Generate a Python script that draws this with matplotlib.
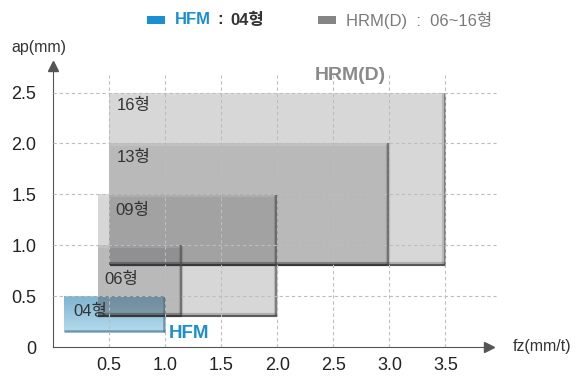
import matplotlib
matplotlib.use("Agg")
import matplotlib.pyplot as plt
import numpy as np
from matplotlib.patches import Rectangle
from matplotlib.colors import LinearSegmentedColormap

# Insert sizes (HRM(D) series) and their working ranges
hrm_names = ["16형", "13형", "09형", "06형"]
hrm_fz_min = [0.5, 0.5, 0.4, 0.4]
hrm_fz_max = [3.5, 3.0, 2.0, 1.15]
hrm_ap_min = [0.8, 0.8, 0.3, 0.3]
hrm_ap_max = [2.5, 2.0, 1.5, 1.0]

# HFM series
hfm_name = "04형"
hfm_fz = [0.1, 1.0]
hfm_ap = [0.15, 0.5]

x_ticks = [0.5, 1.0, 1.5, 2.0, 2.5, 3.0, 3.5]
x_tick_labels = ["0.5", "1.0", "1.5", "2.0", "2.5", "3.0", "3.5"]
y_ticks = [0, 0.5, 1.0, 1.5, 2.0, 2.5]
y_tick_labels = ["0", "0.5", "1.0", "1.5", "2.0", "2.5"]

FONT = ["Liberation Sans", "Noto Sans CJK KR"]
plt.rcParams["font.family"] = FONT

W, H = 586, 376
fig = plt.figure(figsize=(W / 100, H / 100), dpi=100)
ax = fig.add_axes([53 / W, 29 / H, 444 / W, 285 / H])
ax.set_xlim(0, 3.96)
ax.set_ylim(0, 2.8)

# Grid (drawn above the boxes)
grid_kw = dict(color="#bdbdbd", lw=0.8, linestyles=(0, (3, 2.5)), zorder=6)
ax.vlines(x_ticks, 0, 2.67, **grid_kw)
ax.hlines(y_ticks[1:], 0, 3.95, **grid_kw)

# HFM box with vertical gradient
blue_cmap = LinearSegmentedColormap.from_list("hfm", ["#b3dbee", "#7fb4d1"])
grad = np.linspace(0, 1, 64).reshape(-1, 1)
ax.imshow(grad, extent=(hfm_fz[0], hfm_fz[1], hfm_ap[0], hfm_ap[1]),
          origin="lower", cmap=blue_cmap, aspect="auto", zorder=1,
          interpolation="bilinear")
ax.plot([hfm_fz[0], hfm_fz[1]], [hfm_ap[0] + 0.008] * 2,
        color="#4a7d96", lw=1.8, alpha=0.7, zorder=1.5, solid_capstyle="butt")
ax.plot([hfm_fz[1] - 0.008] * 2, [hfm_ap[0], hfm_ap[1]],
        color="#4a7d96", lw=1.8, alpha=0.7, zorder=1.5, solid_capstyle="butt")

# HRM(D) boxes as translucent layers with shadowed bottom/right edges
for x0, x1, y0, y1 in zip(hrm_fz_min, hrm_fz_max, hrm_ap_min, hrm_ap_max):
    ax.add_patch(Rectangle((x0, y0), x1 - x0, y1 - y0, facecolor="#5a5a5c",
                           alpha=0.24, edgecolor="none", zorder=2))
    ax.add_patch(Rectangle((x0, y1 - 0.025), x1 - x0, 0.025, facecolor="white",
                           alpha=0.12, edgecolor="none", zorder=2.2))
    ax.plot([x0, x1], [y0 + 0.012, y0 + 0.012], color="#3a3a3a", lw=3.0,
            alpha=0.25, zorder=3, solid_capstyle="butt")
    ax.plot([x0, x1], [y0 + 0.008, y0 + 0.008], color="#333333", lw=1.5,
            alpha=0.7, zorder=3, solid_capstyle="butt")
    ax.plot([x1 - 0.012, x1 - 0.012], [y0, y1], color="#4a4a4a", lw=3.0,
            alpha=0.22, zorder=3, solid_capstyle="butt")
    ax.plot([x1 - 0.008, x1 - 0.008], [y0, y1], color="#4a4a4a", lw=1.4,
            alpha=0.55, zorder=3, solid_capstyle="butt")

# Size labels
label_xy = [(0.57, 2.37), (0.57, 1.86), (0.56, 1.34), (0.46, 0.66)]
for name, (lx, ly) in zip(hrm_names, label_xy):
    ax.text(lx, ly, name, fontsize=12, color="#333333", va="center",
            ha="left", zorder=8, family=FONT)
ax.text(0.18, 0.345, hfm_name, fontsize=12, color="#333333", va="center",
        ha="left", zorder=8, family=FONT)

# Series labels inside the plot
ax.text(2.65, 2.67, "HRM(D)", fontsize=14, fontweight="bold", color="#8a8a8a",
        ha="center", va="center", zorder=8)
ax.text(1.03, 0.135, "HFM", fontsize=13.5, fontweight="bold", color="#1a8fd2",
        ha="left", va="center", zorder=8)

# Axes with arrowheads
for s in ["top", "right"]:
    ax.spines[s].set_visible(False)
ax.spines["left"].set_color("#555555")
ax.spines["bottom"].set_color("#555555")
ax.spines["left"].set_bounds(0, 2.76)
ax.spines["bottom"].set_bounds(0, 3.86)
ax.plot(0, 2.76, marker="^", ms=7, color="#555555", clip_on=False, zorder=9)
ax.plot(3.89, 0, marker=">", ms=7, color="#555555", clip_on=False, zorder=9)

ax.set_xticks(x_ticks, x_tick_labels)
ax.set_yticks(y_ticks, y_tick_labels)
ax.tick_params(axis="both", length=0, labelsize=13, labelcolor="#222222")
ax.tick_params(axis="y", pad=12)
ax.tick_params(axis="x", pad=7)

ax.text(-0.37, 2.94, "ap(mm)", fontsize=11.5, color="#333333", ha="left",
        va="center", clip_on=False)
ax.text(4.1, 0.0, "fz(mm/t)", fontsize=11.5, color="#333333", ha="left",
        va="center", clip_on=False)

# Legend at the top
ly = 1 - 20 / H
fig.patches.append(Rectangle((147 / W, 1 - 24 / H), 18 / W, 8 / H,
                             transform=fig.transFigure, facecolor="#1a8fd2",
                             edgecolor="none"))
fig.text(175 / W, ly, "HFM", fontsize=12, fontweight="bold", color="#1a8fd2",
         ha="left", va="center")
fig.text(217 / W, ly, ":", fontsize=12, fontweight="bold", color="#333333",
         ha="left", va="center")
fig.text(230 / W, ly, "04형", fontsize=12, fontweight="bold", color="#333333",
         ha="left", va="center", family=FONT)
fig.patches.append(Rectangle((318 / W, 1 - 24 / H), 18 / W, 8 / H,
                             transform=fig.transFigure, facecolor="#858585",
                             edgecolor="none"))
fig.text(346 / W, ly, "HRM(D)  :  06~16형", fontsize=12, color="#7a7a7a",
         ha="left", va="center", family=FONT)

fig.savefig("out.png", dpi=100)
